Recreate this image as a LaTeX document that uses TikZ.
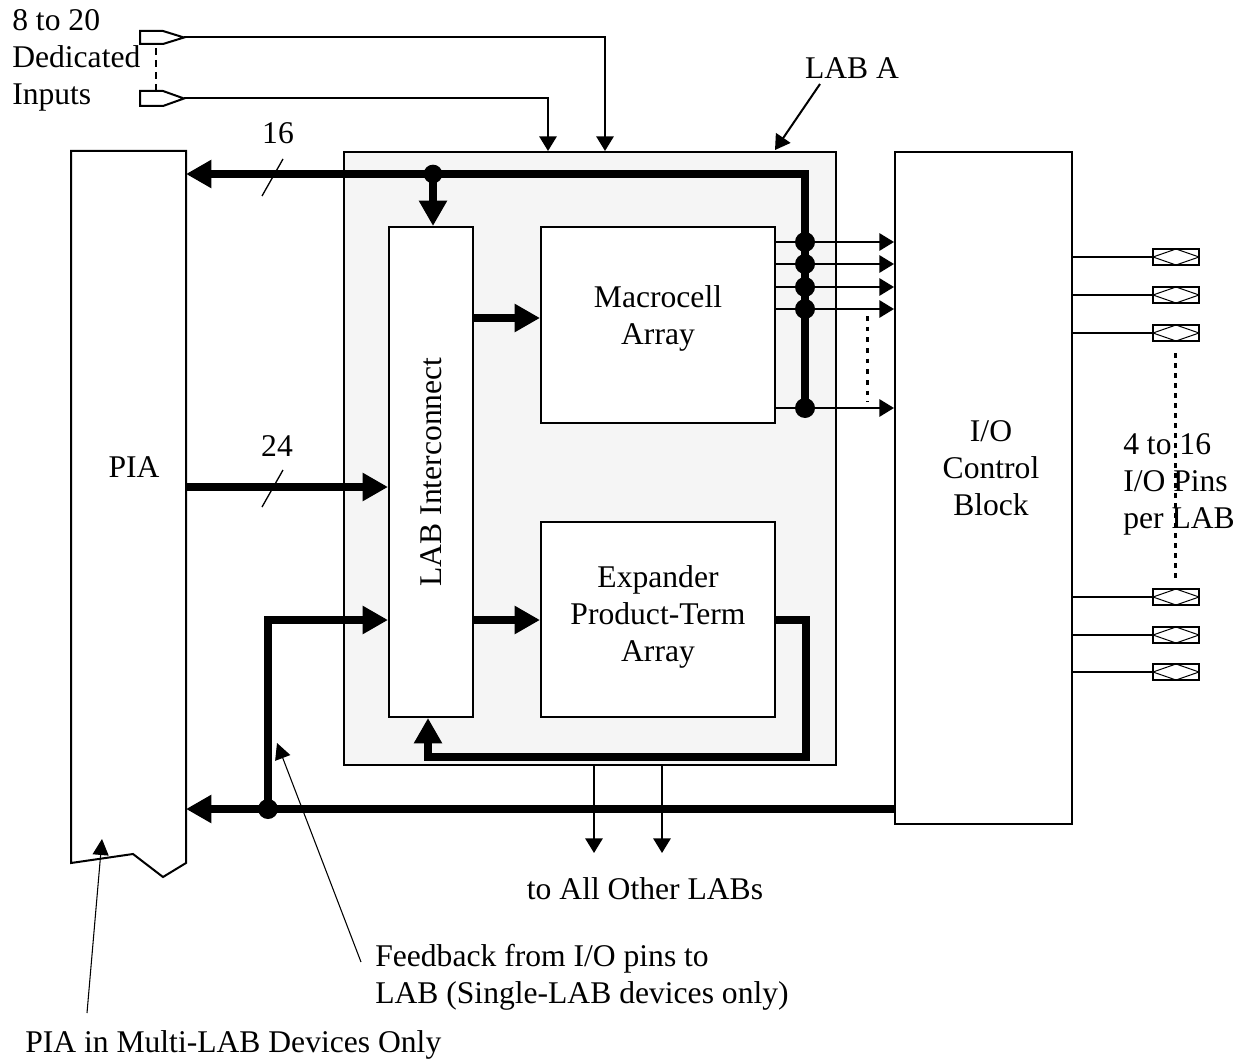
\documentclass[tikz,border=0pt]{standalone}
\usepackage{fontspec}
\setmainfont{Liberation Serif}
\usetikzlibrary{arrows.meta,fit}
\definecolor{labfill}{RGB}{245,245,245}
\begin{document}
\begin{tikzpicture}[x=0.75pt,y=-0.75pt,
  font=\fontsize{23.7}{27.7}\selectfont,
  box/.style={draw, line width=1.5pt, inner sep=0pt},
  bus/.style={line width=6.5pt},
  thinl/.style={line width=1.5pt},
  bigtip/.style={-{Triangle[length=19pt,width=20pt]}},
  smalltip/.style={-{Triangle[length=11pt,width=13pt]}},
  annot/.style={line width=0.8pt,-{Triangle[length=12pt,width=12pt]}},
  iopad/.style={draw, line width=1.5pt, minimum width=34.5pt, minimum height=12pt, inner sep=0pt,
    path picture={\draw[line width=0.75pt] (path picture bounding box.west) -- (path picture bounding box.north) -- (path picture bounding box.east) -- (path picture bounding box.south) -- cycle;}},
  txt/.style={inner sep=0pt}
]
\useasboundingbox (0,0) rectangle (1244,1062);

% blocks
\node[box, fill=labfill, fit={(344,152)(836,765)}] (lab) {};
\node[box, draw=none, fit={(72,152)(185,862)}] (pia) {};
\draw[line width=1.5pt] (pia.north west) -- (pia.north east) -- (pia.south east) -- (163,877) -- (133,854) -- (pia.south west) -- cycle;
\node[box, fill=white, fit={(389,227)(473,717)}] (li) {};
\node[box, fill=white, fit={(541,227)(775,423)}] (mc) {};
\node[box, fill=white, fit={(541,522)(775,717)}] (ex) {};
\node[box, fit={(895,152)(1072,824)}] (io) {};

% block texts
\node[txt] (piat) at (134,467) {PIA};
\node[txt, rotate=90] (lit) at (431,472) {LAB Interconnect};
\node[txt, align=center] (mct) at (658,318) {Macrocell\\Array};
\node[txt, align=center] (ext) at (658,617) {Expander\\Product-Term\\Array};
\node[txt, align=center] (iot) at (991,468) {I/O\\Control\\Block};

% dedicated inputs
\draw[line width=1.5pt] (140,31) -- (163,31) -- (184,37.5) -- (163,44) -- (140,44) -- cycle;
\draw[line width=1.5pt] (140,91) -- (163,91) -- (184,98.5) -- (163,106) -- (140,106) -- cycle;
\coordinate (in1) at (184,37.5);
\coordinate (in2) at (184,98.5);
\draw[line width=1.5pt, dash pattern=on 5pt off 4pt] (155.5,48) -- (155.5,90);
\draw[thinl, smalltip] (in1) -- (605,37.5) -- (lab.north -| 605,0);
\draw[thinl, smalltip] (in2) -- (548,98.5) -- (lab.north -| 548,0);
\node[txt, anchor=west, align=left] (dedt) at (12,60) {8 to 20\\Dedicated\\Inputs};

% LAB A label
\node[txt] (labt) at (852,68) {LAB A};
\coordinate (labarr) at (820,84);
\draw[thinl, smalltip] (labarr) -- (775,150);

% top bus
\draw[bus, bigtip] (805,408) -- (805,174) -- (pia.east |- 0,174);
\draw[bus, bigtip] (433,174) -- (li.north -| 433,0);
\fill (433,174) circle (7pt);
\draw[line width=1pt] (262,196) -- (283,159);
\node[txt] (n16) at (278,133) {16};

% macrocell outputs
\foreach \y in {242,264,287,309,408} {
  \draw[thinl, smalltip] (mc.east |- 0,\y) -- (io.west |- 0,\y);
  \fill (805,\y) circle (7.5pt);
}
\draw[line width=2.25pt, dash pattern=on 3.5pt off 4.5pt] (867,316) -- (867,402);

% PIA to LAB interconnect
\draw[bus, bigtip] (pia.east |- 0,487) -- (li.west |- 0,487);
\draw[line width=1pt] (262,507) -- (283,470);
\node[txt] (n24) at (277,446) {24};

% LAB interconnect to arrays
\draw[bus, bigtip] (li.east |- 0,318) -- (mc.west |- 0,318);
\draw[bus, bigtip] (li.east |- 0,620) -- (ex.west |- 0,620);

% expander feedback
\draw[bus, bigtip] (ex.east |- 0,620) -- (806,620) -- (806,757) -- (428,757) -- (li.south -| 428,0);

% bottom bus and I/O feedback
\draw[bus, bigtip] (io.west |- 0,809) -- (pia.east |- 0,809);
\draw[bus, bigtip] (268,809) -- (268,620) -- (li.west |- 0,620);
\fill (268,809) circle (7.5pt);

% to all other LABs
\draw[thinl, smalltip] (lab.south -| 594,0) -- (594,853);
\draw[thinl, smalltip] (lab.south -| 662,0) -- (662,853);
\node[txt] (othert) at (645,889) {to All Other LABs};

% I/O pins
\foreach \y [count=\i] in {257,295,333,597,635,672} {
  \node[iopad] (p\i) at (1176,\y) {};
  \draw[thinl] (io.east |- p\i) -- (p\i.west);
}
\draw[line width=2.25pt, dash pattern=on 3.5pt off 4pt] (1175,353) -- (1175,578);
\node[txt, anchor=west, align=left] (pinst) at (1123,484) {4 to 16\\I/O Pins\\per LAB};

% annotations
\node[txt, anchor=west, align=left] (fbt) at (375,977) {Feedback from I/O pins to\\LAB (Single-LAB devices only)};
\coordinate (fbarr) at (361,962);
\draw[annot] (fbarr) -- (277,743);
\node[txt, anchor=west] (piaann) at (25,1045) {PIA in Multi-LAB Devices Only};
\coordinate (piaarr) at (87,1013);
\draw[annot] (piaarr) -- (102,839);
\end{tikzpicture}
\end{document}
